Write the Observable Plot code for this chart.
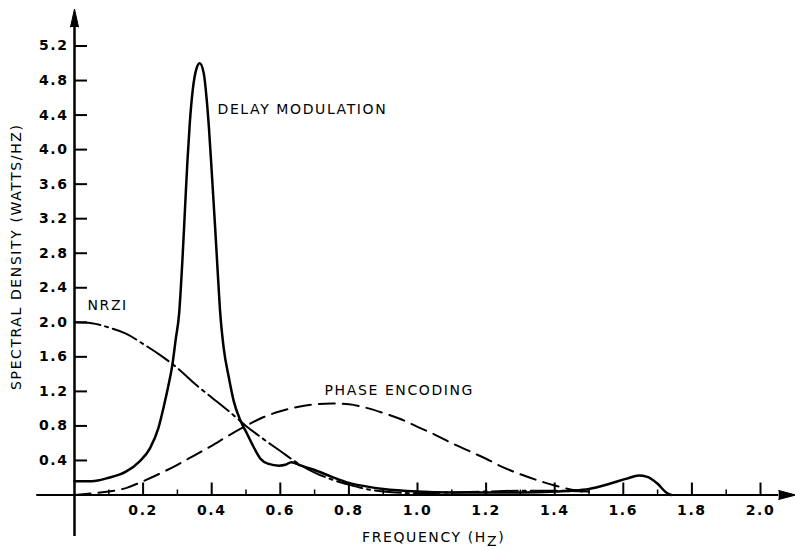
<!DOCTYPE html>
<html>
<head>
<meta charset="utf-8">
<script src="https://cdn.jsdelivr.net/npm/d3@7"></script>
<script src="https://cdn.jsdelivr.net/npm/@observablehq/plot@0.6"></script>
<style>
  html, body { margin: 0; padding: 0; background: #fff; }
  #chart svg { display: block; }
  #chart text { letter-spacing: 1.6px; }
  #chart g[aria-label="x-axis tick label"] text,
  #chart g[aria-label="y-axis tick label"] text { font-weight: bold; }
</style>
</head>
<body>
<div id="chart"></div>
<script>
// ---- data ----
const seriesNames = ["DELAY MODULATION", "NRZI", "PHASE ENCODING"];

const delayFreq = [0, 0.05, 0.1, 0.15, 0.19, 0.22, 0.245, 0.26, 0.275, 0.285, 0.295, 0.305, 0.315, 0.322, 0.329, 0.336, 0.345, 0.355, 0.365, 0.377, 0.385, 0.392, 0.4, 0.41, 0.418, 0.425, 0.435, 0.45, 0.464, 0.484, 0.503, 0.523, 0.542, 0.566, 0.596, 0.615, 0.632, 0.66, 0.7, 0.75, 0.8, 0.85, 0.9, 1.0, 1.1, 1.2, 1.3, 1.4, 1.45, 1.5, 1.56, 1.61, 1.645, 1.67, 1.7, 1.725, 1.74];
const delayDensity = [0.16, 0.16, 0.2, 0.27, 0.39, 0.54, 0.78, 1.02, 1.29, 1.5, 1.8, 2.1, 2.75, 3.3, 3.85, 4.3, 4.7, 4.93, 5.0, 4.88, 4.6, 4.25, 3.75, 3.1, 2.55, 2.1, 1.7, 1.36, 1.09, 0.86, 0.71, 0.55, 0.42, 0.36, 0.34, 0.35, 0.38, 0.34, 0.29, 0.21, 0.14, 0.1, 0.07, 0.04, 0.03, 0.03, 0.03, 0.04, 0.05, 0.07, 0.13, 0.19, 0.225, 0.21, 0.13, 0.03, 0];

const nrziFreq = [0, 0.05, 0.1, 0.15, 0.2, 0.25, 0.3, 0.35, 0.4, 0.45, 0.5, 0.55, 0.6, 0.65, 0.7, 0.75, 0.8, 0.85, 0.9, 1.0, 1.1, 1.2, 1.3, 1.4, 1.5];
const nrziDensity = [2.0, 1.99, 1.94, 1.87, 1.75, 1.62, 1.47, 1.29, 1.13, 0.97, 0.80, 0.65, 0.51, 0.37, 0.26, 0.18, 0.12, 0.07, 0.04, 0.02, 0.03, 0.04, 0.05, 0.05, 0.04];

const phaseFreq = [0, 0.05, 0.1, 0.15, 0.2, 0.25, 0.3, 0.35, 0.4, 0.45, 0.5, 0.55, 0.6, 0.65, 0.7, 0.75, 0.8, 0.85, 0.9, 0.95, 1.0, 1.05, 1.1, 1.15, 1.2, 1.25, 1.3, 1.35, 1.4, 1.45, 1.5];
const phaseDensity = [0, 0.02, 0.04, 0.08, 0.16, 0.25, 0.35, 0.46, 0.57, 0.69, 0.80, 0.90, 0.97, 1.02, 1.05, 1.06, 1.05, 1.01, 0.95, 0.88, 0.79, 0.70, 0.60, 0.51, 0.42, 0.32, 0.24, 0.17, 0.11, 0.06, 0.03];

const xMajorTicks = [0.2, 0.4, 0.6, 0.8, 1.0, 1.2, 1.4, 1.6, 1.8, 2.0];
const xMinorTicks = [0.1, 0.3, 0.5, 0.7, 0.9, 1.1, 1.3, 1.5, 1.7, 1.9];
const yTicks = [0.4, 0.8, 1.2, 1.6, 2.0, 2.4, 2.8, 3.2, 3.6, 4.0, 4.4, 4.8, 5.2];

const xLabel = "FREQUENCY (HZ)";
const yLabel = "SPECTRAL DENSITY (WATTS/HZ)";

// ---- build tables ----
const toRows = (fs, ds) => fs.map((f, i) => ({f, d: ds[i]}));
const delayRows = toRows(delayFreq, delayDensity);
const nrziRows = toRows(nrziFreq, nrziDensity);
const phaseRows = toRows(phaseFreq, phaseDensity);

const font = "DejaVu Sans";

const chart = Plot.plot({
  width: 795,
  height: 550,
  marginLeft: 74,
  marginRight: 35,
  marginTop: 45.5,
  marginBottom: 55.5,
  x: {domain: [0, 2]},
  y: {domain: [0, 5.2]},
  style: {fontFamily: font, fontSize: "14px", background: "white", color: "black", overflow: "visible"},
  marks: [
    // axis lines
    Plot.ruleY([0], {x1: () => -0.11, x2: () => 2.053, stroke: "black", strokeWidth: 2}),
    Plot.ruleX([0], {y1: () => -0.48, y2: () => 5.42, stroke: "black", strokeWidth: 2.5}),
    // arrowheads
    Plot.vector([0], {x: () => 2.053, y: () => 0, length: 17, rotate: 90, anchor: "start", shape: "spike", r: 4.5, fill: "black", stroke: "black", strokeWidth: 1}),
    Plot.vector([0], {x: () => 0, y: () => 5.42, length: 18, rotate: 0, anchor: "start", shape: "spike", r: 4, fill: "black", stroke: "black", strokeWidth: 1}),
    // axes (ticks inward)
    Plot.axisX(xMajorTicks, {tickSize: -12, tickPadding: 22, strokeWidth: 2, tickFormat: ".1f", fontSize: 14, label: null}),
    Plot.axisX(xMinorTicks, {tickSize: -5, strokeWidth: 1.5, tickFormat: () => "", label: null}),
    Plot.axisY(yTicks, {tickSize: -13, tickPadding: 19, strokeWidth: 2, tickFormat: ".1f", fontSize: 14, label: null}),
    // series
    Plot.line(phaseRows, {x: "f", y: "d", curve: "monotone-x", stroke: "black", strokeWidth: 2, strokeDasharray: "16,8"}),
    Plot.line(nrziRows, {x: "f", y: "d", curve: "monotone-x", stroke: "black", strokeWidth: 2, strokeDasharray: "26,5,3,5"}),
    Plot.line(delayRows, {x: "f", y: "d", curve: "monotone-x", stroke: "black", strokeWidth: 2.5}),
    // series labels
    Plot.text([seriesNames[0]], {x: () => 0.417, y: () => 4.47, text: d => d, textAnchor: "start", fontSize: 14}),
    Plot.text([seriesNames[1]], {x: () => 0.038, y: () => 2.2, text: d => d, textAnchor: "start", fontSize: 14}),
    Plot.text([seriesNames[2]], {x: () => 0.729, y: () => 1.21, text: d => d, textAnchor: "start", fontSize: 14}),
    // axis titles
    Plot.text([xLabel], {x: () => 1.047, frameAnchor: "bottom", dy: 47, text: d => d, fontSize: 14}),
    Plot.text([yLabel], {y: () => 2.76, frameAnchor: "left", textAnchor: "middle", dx: -58, rotate: -90, text: d => d, fontSize: 14})
  ]
});

document.getElementById("chart").appendChild(chart);

// subscript Z in the frequency unit
d3.select(chart).selectAll("text")
  .filter(function() { return this.textContent === xLabel; })
  .each(function() {
    const t = d3.select(this);
    t.text(null);
    t.append("tspan").text("FREQUENCY (H");
    t.append("tspan").attr("dy", "0.3em").text("Z");
    t.append("tspan").attr("dy", "-0.3em").text(")");
  });
</script>
</body>
</html>
